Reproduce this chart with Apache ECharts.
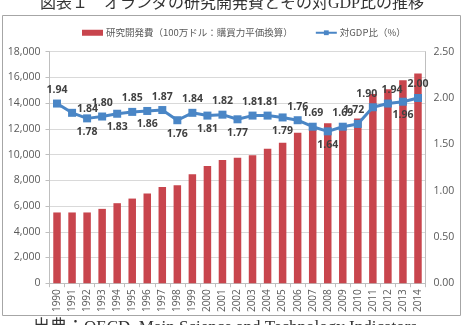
<!DOCTYPE html>
<html>
<head>
<meta charset="utf-8">
<script src="https://cdn.jsdelivr.net/npm/echarts@6/dist/echarts.min.js"></script>
<style>
  html, body { margin: 0; padding: 0; background: #fff; }
  #chart { width: 464px; height: 325px; }
</style>
</head>
<body>
<div id="chart"></div>
<script>
const years = ["1990", "1991", "1992", "1993", "1994", "1995", "1996", "1997", "1998", "1999",
  "2000", "2001", "2002", "2003", "2004", "2005", "2006", "2007", "2008", "2009",
  "2010", "2011", "2012", "2013", "2014"];
// 研究開発費（100万ドル）
const rdSpend = [5500, 5500, 5500, 5780, 6220, 6580, 6970, 7480, 7610, 8470,
  9110, 9570, 9760, 9940, 10460, 10920, 11700, 12100, 12440, 12300,
  12800, 14720, 15080, 15780, 16300];
// 対GDP比（%）
const gdpRatio = [1.94, 1.84, 1.78, 1.80, 1.83, 1.85, 1.86, 1.87, 1.76, 1.84,
  1.81, 1.82, 1.77, 1.81, 1.81, 1.79, 1.76, 1.69, 1.64, 1.69,
  1.72, 1.90, 1.94, 1.96, 2.00];
const leftTicks = { min: 0, max: 18000, interval: 2000 };
const rightTicks = { min: 0, max: 2.5, interval: 0.5 };

// where each percentage label sits relative to its point
const labelSide = ["top", "right", "bottom", "top", "bottom", "top", "bottom", "top", "bottom", "top",
  "bottom", "top", "bottom", "top", "top", "bottom", "top", "top", "bottom", "top",
  "top", "top", "top", "bottom", "top"];
const labelShift = {
  1: [-3, -4], 20: [-4, 0], 21: [-6, 0], 22: [4, 0]
};

const chart = echarts.init(document.getElementById("chart"));
const axisText = { color: "#595959", fontSize: 10, fontFamily: "Open Sans, Noto Sans CJK JP" };

const option = {
  animation: false,
  grid: { left: 49.5, right: 38.5, top: 51.7, bottom: 41.8 },
  legend: {
    top: 23,
    left: 77,
    itemGap: 22,
    itemWidth: 21,
    itemHeight: 6,
    textStyle: { color: "#595959", fontSize: 9.5, fontFamily: "Noto Sans CJK JP", padding: [0, 0, 0, -2] },
    data: [
      { name: "研究開発費（100万ドル：購買力平価換算）", icon: "rect" },
      { name: "対GDP比（%）" }
    ]
  },
  xAxis: {
    type: "category",
    data: years,
    axisLine: { lineStyle: { color: "#bfbfbf", width: 1 } },
    axisTick: { show: true, length: 4, lineStyle: { color: "#bfbfbf" } },
    axisLabel: { ...axisText, rotate: 90, interval: 0, margin: 6 }
  },
  yAxis: [
    {
      type: "value",
      ...leftTicks,
      axisLine: { show: true, lineStyle: { color: "#bfbfbf" } },
      axisTick: { show: true, length: 4, lineStyle: { color: "#bfbfbf" } },
      splitLine: { lineStyle: { color: "#d9d9d9", width: 1 } },
      axisLabel: {
        ...axisText, fontSize: 10.5, margin: 9,
        formatter: v => v.toLocaleString("en-US")
      }
    },
    {
      type: "value",
      ...rightTicks,
      axisLine: { show: true, lineStyle: { color: "#bfbfbf" } },
      axisTick: { show: false },
      splitLine: { show: false },
      axisLabel: { ...axisText, fontSize: 10.5, margin: 8, formatter: v => v.toFixed(2) }
    }
  ],
  series: [
    {
      name: "研究開発費（100万ドル：購買力平価換算）",
      type: "bar",
      data: rdSpend,
      barWidth: 7.5,
      itemStyle: { color: "#c8454d" }
    },
    {
      name: "対GDP比（%）",
      type: "line",
      yAxisIndex: 1,
      data: gdpRatio.map((v, i) => ({
        value: v,
        label: { position: labelSide[i], offset: labelShift[i] || [0, 0] }
      })),
      symbol: "rect",
      symbolSize: 8,
      lineStyle: { color: "#4a86c6", width: 3 },
      itemStyle: { color: "#4a86c6" },
      label: {
        show: true,
        distance: 4,
        color: "#404040",
        fontSize: 10.5,
        fontWeight: "bold",
        fontFamily: "Open Sans, DejaVu Sans",
        formatter: p => p.value.toFixed(2)
      },
      z: 5
    }
  ],
  graphic: [
    {
      type: "rect",
      shape: { x: 2.5, y: 15.5, width: 458, height: 300 },
      style: { fill: null, stroke: "#a6a6a6", lineWidth: 1 },
      silent: true
    },
    {
      type: "text",
      left: "center",
      top: -4,
      style: {
        text: "図表１　オランダの研究開発費とその対GDP比の推移",
        fill: "#333",
        font: "16px 'Liberation Serif', 'Noto Sans CJK JP'"
      }
    },
    {
      type: "text",
      left: 33,
      top: 319,
      style: {
        text: "出典：OECD, Main Science and Technology Indicators",
        fill: "#333",
        font: "17px 'Liberation Serif', 'Noto Sans CJK JP'"
      }
    }
  ]
};

chart.setOption(option);
</script>
</body>
</html>
